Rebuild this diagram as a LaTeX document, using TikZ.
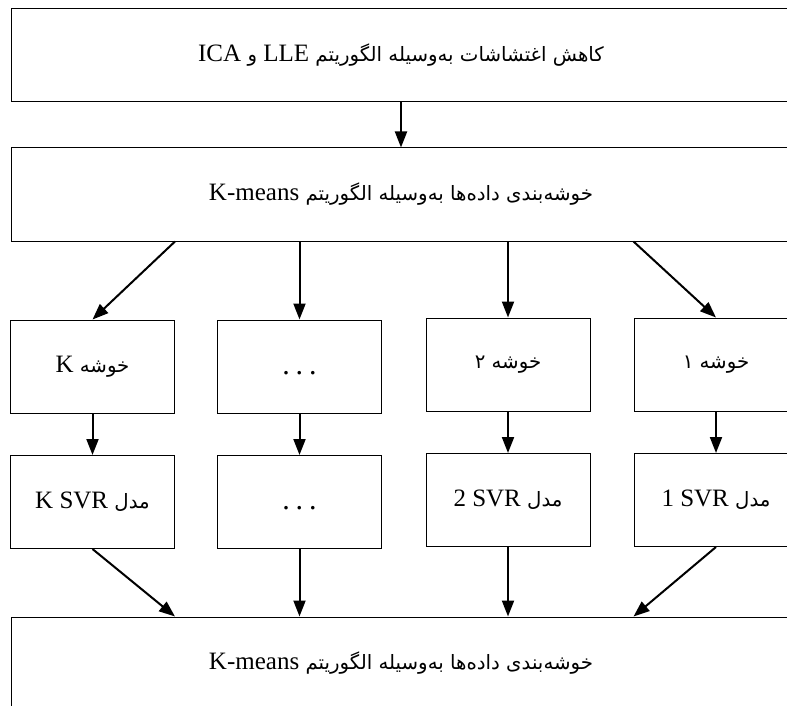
\documentclass[tikz,border=0pt]{standalone}
\usepackage{fontspec}
\setmainfont{Liberation Serif}
\newfontfamily\fa[Script=Arabic,Scale=0.79]{DejaVu Sans}
\TeXXeTstate=1
\usetikzlibrary{arrows.meta}
\newcommand{\latn}[1]{\beginL{\rmfamily #1}\endL}
\newcommand{\sdots}{\vphantom{K}{\fontsize{30}{32}\selectfont .\hspace{5.8pt}.\hspace{5.8pt}.}}

\begin{document}
\begin{tikzpicture}[x=1pt,y=-1pt,
  bigbox/.style={draw,line width=1pt,minimum width=780pt,minimum height=93pt,inner sep=0pt},
  box/.style={draw,line width=1pt,minimum width=164pt,minimum height=93pt,inner sep=0pt},
  arr/.style={line width=2pt,-{Triangle[length=16pt,width=12pt]}},
  font=\fontsize{25}{30}\selectfont]
\useasboundingbox (0,0) rectangle (787,706);
\clip (0,0) rectangle (787,706);
\node[bigbox] (top) at (401,55) {\fa\beginR کاهش اغتشاشات به‌وسیله الگوریتم \latn{LLE} و \latn{ICA}\endR};
\node[bigbox] (clus) at (401,194.5) {\fa\beginR خوشه‌بندی داده‌ها به‌وسیله الگوریتم \latn{K-means}\endR};
\node[box] (c1) at (92.5,366.5) {\fa\beginR خوشه \latn{K}\endR};
\node[box] (c2) at (299.5,366.5) {\sdots};
\node[box] (c3) at (508,364.5) {\fa\beginR خوشه ۲\endR};
\node[box] (c4) at (716,364.5) {\fa\beginR خوشه ۱\endR};
\node[box] (m1) at (92.5,502) {\fa\beginR مدل \latn{K SVR}\endR};
\node[box] (m2) at (299.5,502) {\sdots};
\node[box] (m3) at (508,500) {\fa\beginR مدل \latn{2 SVR}\endR};
\node[box] (m4) at (716,500) {\fa\beginR مدل \latn{1 SVR}\endR};
\node[bigbox] (out) at (401,663.5) {\fa\beginR خوشه‌بندی داده‌ها به‌وسیله الگوریتم \latn{K-means}\endR};
\draw[arr] (top) -- (clus);
\draw[arr] (clus.south -| c1.east) -- (c1.north);
\draw[arr] (clus.south -| c2) -- (c2.north);
\draw[arr] (clus.south -| c3) -- (c3.north);
\draw[arr] (clus.south -| c4.west) -- (c4.north);
\draw[arr] (c1) -- (m1);
\draw[arr] (c2) -- (m2);
\draw[arr] (c3) -- (m3);
\draw[arr] (c4) -- (m4);
\draw[arr] (m1.south) -- (out.north -| m1.east);
\draw[arr] (m2) -- (out.north -| m2);
\draw[arr] (m3) -- (out.north -| m3);
\draw[arr] (m4.south) -- (out.north -| m4.west);
\end{tikzpicture}
\end{document}
